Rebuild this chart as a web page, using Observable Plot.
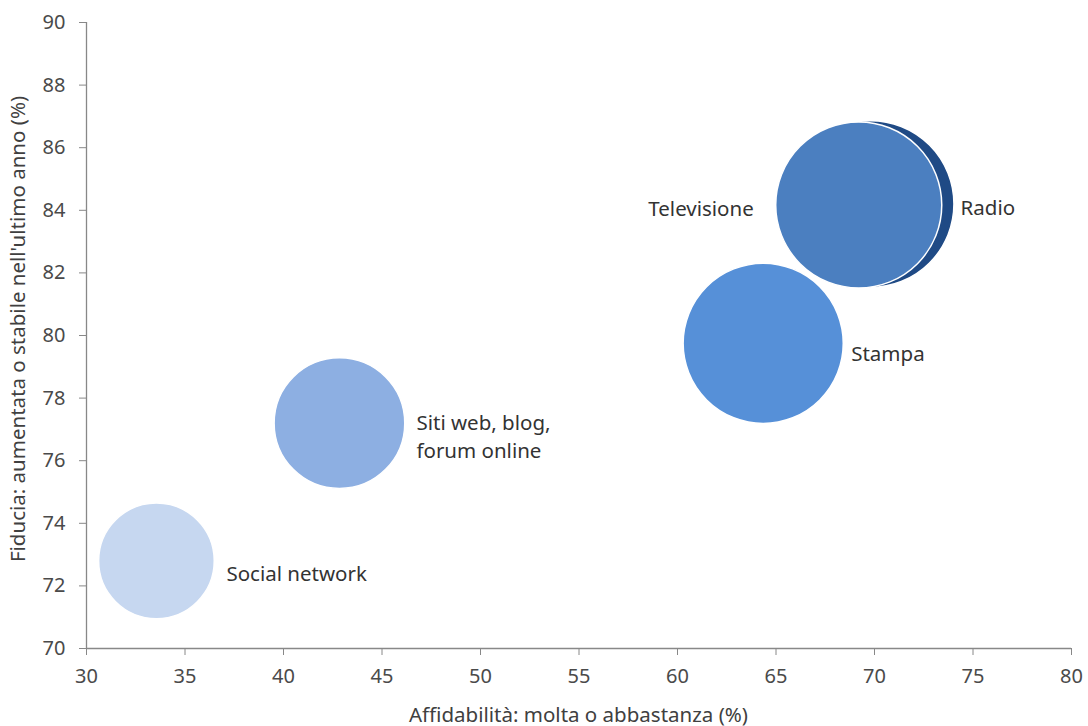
<!DOCTYPE html>
<html>
<head>
<meta charset="utf-8">
<script src="https://cdn.jsdelivr.net/npm/d3@7"></script>
<script src="https://cdn.jsdelivr.net/npm/@observablehq/plot@0.6"></script>
<style>
  html, body { margin: 0; padding: 0; background: #fff; }
  svg { display: block; }
</style>
</head>
<body>
<div id="chart"></div>
<script>
// Data
const categorie = ["Social network", "Siti web, blog,\nforum online", "Stampa", "Radio", "Televisione"];
const affidabilita = [33.55, 42.84, 64.35, 69.8, 69.2];   // x (%)
const fiducia = [72.8, 77.2, 79.75, 84.2, 84.17];          // y (%)
const dimensione = [33.55, 42.84, 64.35, 69.8, 69.2];      // bubble size
const colori = ["#c6d7f0", "#8dafe2", "#5690d8", "#1f4a85", "#4b7fc0"];
const xTicks = [30, 35, 40, 45, 50, 55, 60, 65, 70, 75, 80];
const yTicks = [70, 72, 74, 76, 78, 80, 82, 84, 86, 88, 90];

const data = categorie.map((c, i) => ({
  categoria: c, x: affidabilita[i], y: fiducia[i], size: dimensione[i]
}));
const byName = n => data.filter(d => d.categoria === n);

const font = "'Noto Sans', 'DejaVu Sans', sans-serif";
const labelStyle = {fontSize: 20.5, fill: "#333333", fontFamily: font, lineHeight: 1.35};

const chart = Plot.plot({
  width: 1088,
  height: 726,
  marginLeft: 86,
  marginRight: 17,
  marginTop: 22,
  marginBottom: 78,
  style: {fontFamily: font, fontSize: "20px", color: "#4a4a4a", background: "#fff"},
  x: {domain: [30, 80], ticks: xTicks, label: null},
  y: {domain: [70, 90], ticks: yTicks, label: null},
  r: {domain: [0, 70], range: [0, 83.5]},
  color: {domain: categorie, range: colori},
  marks: [
    Plot.axisX({ticks: xTicks, tickSize: 7, tickPadding: 13, stroke: "#888", fill: "#4a4a4a", fontSize: 20, label: null}),
    Plot.axisY({ticks: yTicks, tickSize: 7, tickPadding: 14, stroke: "#888", fill: "#4a4a4a", fontSize: 20, label: null}),
    Plot.ruleY([70], {stroke: "#888", strokeWidth: 1.3}),
    Plot.ruleX([30], {stroke: "#888", strokeWidth: 1.3}),
    Plot.dot(data, {x: "x", y: "y", r: "size", fill: "categoria", stroke: "white", strokeWidth: 1.5, fillOpacity: 1, sort: null}),
    Plot.text(byName("Social network"), {x: "x", y: "y", text: "categoria", textAnchor: "start", dx: 70, dy: 11, ...labelStyle}),
    Plot.text(byName("Siti web, blog,\nforum online"), {x: "x", y: "y", text: "categoria", textAnchor: "start", dx: 77, dy: 12, ...labelStyle}),
    Plot.text(byName("Stampa"), {x: "x", y: "y", text: "categoria", textAnchor: "start", dx: 88, dy: 9, ...labelStyle}),
    Plot.text(byName("Televisione"), {x: "x", y: "y", text: "categoria", textAnchor: "end", dx: -105, dy: 2, ...labelStyle}),
    Plot.text(byName("Radio"), {x: "x", y: "y", text: "categoria", textAnchor: "start", dx: 90, dy: 2, ...labelStyle})
  ]
});

// Axis titles
const svg = d3.select(chart);
svg.append("text")
  .attr("x", (86 + 1071) / 2).attr("y", 716)
  .attr("text-anchor", "middle").attr("dominant-baseline", "middle")
  .attr("fill", "#404040").attr("font-size", 20.5).attr("font-family", font)
  .text("Affidabilità: molta o abbastanza (%)");
svg.append("text")
  .attr("transform", `translate(19, ${(22 + 648) / 2 - 6}) rotate(-90)`)
  .attr("text-anchor", "middle").attr("dominant-baseline", "middle")
  .attr("fill", "#404040").attr("font-size", 20.5).attr("font-family", font)
  .text("Fiducia: aumentata o stabile nell'ultimo anno (%)");

document.getElementById("chart").appendChild(chart);
</script>
</body>
</html>
